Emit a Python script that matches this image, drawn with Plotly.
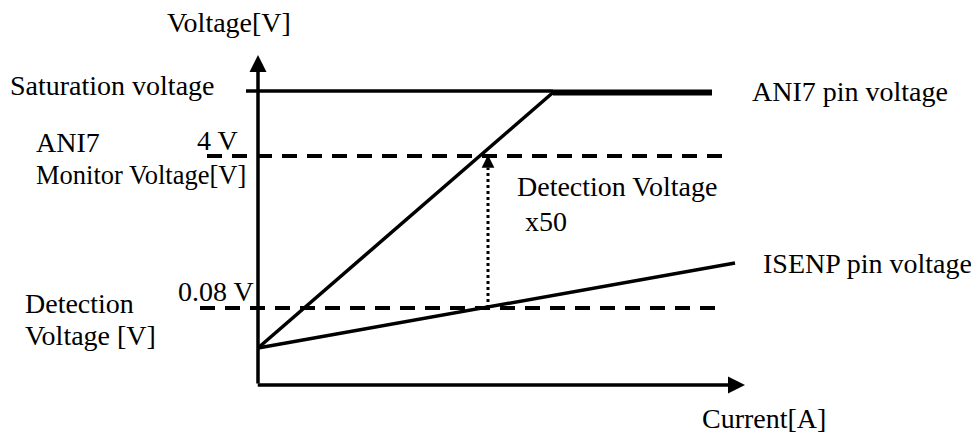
import plotly.graph_objects as go

# ---- schematic data (arbitrary schematic units: current on x, voltage on y) ----
current_axis_end = 9.74
voltage_axis_end = 6.6

ani7_current = [0.0, 5.9, 9.08]
ani7_voltage = [0.74, 5.85, 5.85]

isenp_current = [0.0, 9.54]
isenp_voltage = [0.74, 2.44]

saturation_current = [-0.24, 5.9]
saturation_voltage = 5.88

monitor_level = 4.58          # "4 V" level
monitor_span = [-1.02, 9.36]
detect_level = 1.54           # "0.08 V" level
detect_span = [-1.16, 9.24]

x50_current = 4.6             # position of dotted x50 arrow

FONT = dict(family="Liberation Serif, Times New Roman, serif", size=28, color="black")
BLACK = "black"

fig = go.Figure()

# Saturation voltage line
fig.add_trace(go.Scatter(x=saturation_current, y=[saturation_voltage] * 2, mode="lines",
                         line=dict(color=BLACK, width=3.5), hoverinfo="skip"))
# ANI7 diagonal
fig.add_trace(go.Scatter(x=ani7_current[:2], y=ani7_voltage[:2], mode="lines",
                         line=dict(color=BLACK, width=3.5), hoverinfo="skip"))
# ANI7 saturated part
fig.add_trace(go.Scatter(x=ani7_current[1:], y=ani7_voltage[1:], mode="lines",
                         line=dict(color=BLACK, width=6), hoverinfo="skip"))
# ISENP line
fig.add_trace(go.Scatter(x=isenp_current, y=isenp_voltage, mode="lines",
                         line=dict(color=BLACK, width=3.5), hoverinfo="skip"))
# dashed reference levels
fig.add_trace(go.Scatter(x=monitor_span, y=[monitor_level] * 2, mode="lines",
                         line=dict(color=BLACK, width=4, dash="15px,10px"), hoverinfo="skip"))
fig.add_trace(go.Scatter(x=detect_span, y=[detect_level] * 2, mode="lines",
                         line=dict(color=BLACK, width=4, dash="15px,10px"), hoverinfo="skip"))
# dotted x50 arrow shaft
head_len = 0.26
fig.add_trace(go.Scatter(x=[x50_current] * 2, y=[detect_level, monitor_level - head_len + 0.02],
                         mode="lines", line=dict(color=BLACK, width=3, dash="dot"), hoverinfo="skip"))

annotations = []
# axes with arrow heads
annotations.append(dict(x=0, y=voltage_axis_end, ax=0, ay=0, xref="x", yref="y", axref="x", ayref="y",
                        text="", showarrow=True, arrowhead=2, arrowwidth=3.5, arrowsize=0.97,
                        arrowcolor=BLACK))
annotations.append(dict(x=current_axis_end, y=0, ax=-0.035, ay=0, xref="x", yref="y", axref="x", ayref="y",
                        text="", showarrow=True, arrowhead=2, arrowwidth=3.5, arrowsize=0.97,
                        arrowcolor=BLACK))
# x50 arrow head
annotations.append(dict(x=x50_current, y=monitor_level + 0.02, ax=x50_current, ay=monitor_level - head_len,
                        xref="x", yref="y", axref="x", ayref="y",
                        text="", showarrow=True, arrowhead=2, arrowwidth=3, arrowsize=0.85,
                        arrowcolor=BLACK))

labels = [
    ("Voltage[V]", -1.82, 7.26, 28),
    ("Saturation voltage", -4.96, 6.0, 28),
    ("ANI7", -4.44, 4.85, 28),
    ("Monitor Voltage[V]", -4.44, 4.206, 26.5),
    ("4 V", -1.22, 4.9, 28),
    ("Detection Voltage", 5.18, 3.98, 28),
    ("x50", 5.34, 3.28, 28),
    ("0.08 V", -1.6, 1.88, 28),
    ("Detection", -4.66, 1.626, 28),
    ("Voltage [V]", -4.66, 1.0, 28),
    ("ANI7 pin voltage", 9.88, 5.874, 28),
    ("ISENP pin voltage", 10.1, 2.424, 28),
    ("Current[A]", 8.88, -0.66, 28),
]
for txt, lx, ly, fs in labels:
    annotations.append(dict(x=lx, y=ly, xref="x", yref="y", text=txt, showarrow=False,
                            xanchor="left", yanchor="middle", font=dict(FONT, size=fs),
                            borderpad=0, borderwidth=0))

fig.update_layout(
    width=971, height=437,
    margin=dict(l=0, r=0, t=0, b=0),
    paper_bgcolor="white", plot_bgcolor="white",
    showlegend=False,
    xaxis=dict(range=[-5.16, 14.26], visible=False, fixedrange=True),
    yaxis=dict(range=[-1.04, 7.7], visible=False, fixedrange=True),
    annotations=annotations,
)

fig.write_html(
    "out.html",
    config={"displayModeBar": False},
    post_script="document.body.style.margin='0';document.body.style.padding='0';"
                "document.body.style.overflow='hidden';",
)
